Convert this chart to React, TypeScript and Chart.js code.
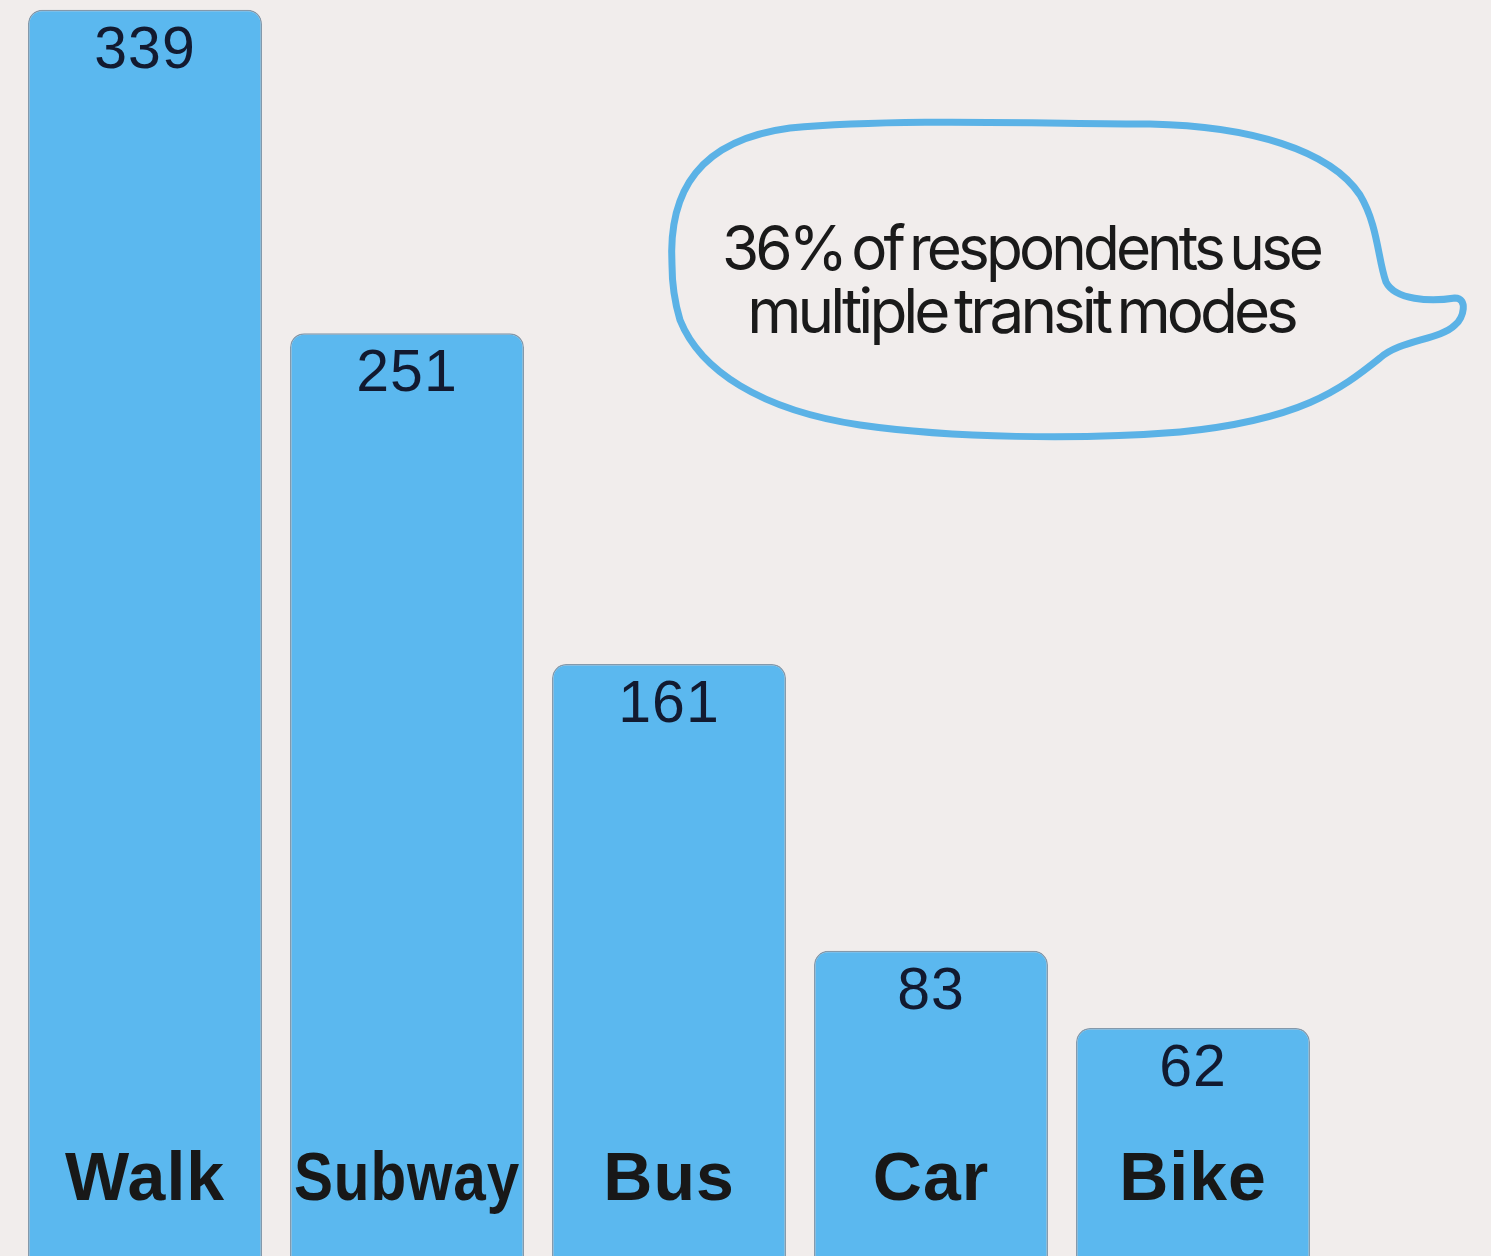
import React, { useEffect, useRef } from "react";
import { Chart, registerables } from "chart.js";

Chart.register(...registerables);

const categories = ["Walk", "Subway", "Bus", "Car", "Bike"];
const respondents = [339, 251, 161, 83, 62];
const calloutLines = ["36% of respondents use", "multiple transit modes"];

const BG = "#f1edec";
const BAR = "#5bb8ef";

const decorPlugin = {
  id: "decor",
  beforeDraw(chart: any) {
    const { ctx, width, height } = chart;
    ctx.save();
    ctx.fillStyle = BG;
    ctx.fillRect(0, 0, width, height);
    ctx.restore();
  },
  afterDatasetsDraw(chart: any) {
    const { ctx } = chart;
    const meta = chart.getDatasetMeta(0);
    ctx.save();
    meta.data.forEach((bar: any, i: number) => {
      const w = bar.width;
      ctx.textAlign = "center";
      ctx.textBaseline = "alphabetic";
      // value
      ctx.fillStyle = "#121a30";
      ctx.font = "59px 'Liberation Sans', Arial, sans-serif";
      (ctx as any).letterSpacing = "1px";
      ctx.fillText(String(respondents[i]), bar.x, bar.y + 58);
      // category
      ctx.fillStyle = "#181818";
      ctx.font = "bold 68px 'Liberation Sans', Arial, sans-serif";
      (ctx as any).letterSpacing = "1px";
      ctx.fillText(categories[i], bar.x, 1200, w - 8);
    });

    // speech bubble
    ctx.beginPath();
    ctx.moveTo(672, 265);
    ctx.bezierCurveTo(668, 190, 700, 140, 790, 128);
    ctx.bezierCurveTo(900, 118, 1050, 124, 1150, 124);
    ctx.bezierCurveTo(1250, 126, 1330, 150, 1360, 195);
    ctx.bezierCurveTo(1378, 225, 1378, 260, 1386, 282);
    ctx.bezierCurveTo(1395, 300, 1430, 302, 1455, 298);
    ctx.bezierCurveTo(1468, 298, 1464, 318, 1455, 325);
    ctx.bezierCurveTo(1440, 340, 1400, 340, 1380, 358);
    ctx.bezierCurveTo(1340, 390, 1300, 420, 1180, 432);
    ctx.bezierCurveTo(1080, 440, 950, 438, 860, 425);
    ctx.bezierCurveTo(760, 410, 700, 370, 680, 320);
    ctx.bezierCurveTo(674, 300, 672, 285, 672, 265);
    ctx.closePath();
    ctx.lineWidth = 7;
    ctx.strokeStyle = "#5bb2e6";
    ctx.lineJoin = "round";
    ctx.stroke();

    ctx.fillStyle = "#1a1a1a";
    ctx.font = "400 62px Inter, 'Liberation Sans', sans-serif";
    ctx.textAlign = "center";
    (ctx as any).letterSpacing = "-4px";
    (ctx as any).wordSpacing = "-6px";
    ctx.fillText(calloutLines[0], 1021, 270, 598);
    ctx.fillText(calloutLines[1], 1021, 333, 551);
    ctx.restore();
  },
};

export default function App() {
  const ref = useRef<HTMLCanvasElement>(null);
  useEffect(() => {
    document.body.style.margin = "0";
    document.body.style.background = BG;
    const chart = new Chart(ref.current!, {
      type: "bar",
      data: {
        labels: categories,
        datasets: [
          {
            data: respondents,
            backgroundColor: BAR,
            borderColor: "#8499ab",
            borderWidth: 1.5,
            borderRadius: { topLeft: 14, topRight: 14, bottomLeft: 0, bottomRight: 0 },
            borderSkipped: "bottom",
            barPercentage: 0.893,
            categoryPercentage: 1,
          },
        ],
      },
      options: {
        responsive: false,
        animation: false,
        devicePixelRatio: 1,
        layout: { padding: { left: 14, right: 167, top: 6, bottom: 0 } },
        scales: {
          x: { display: false },
          y: { display: false, min: 0, max: 340 },
        },
        plugins: { legend: { display: false }, tooltip: { enabled: false } },
      },
      plugins: [decorPlugin],
    });
    return () => chart.destroy();
  }, []);
  return (
    <div style={{ position: "absolute", left: 0, top: 0, width: 1491, height: 1256 }}>
      <canvas ref={ref} width={1491} height={1256} style={{ display: "block" }} />
    </div>
  );
}
